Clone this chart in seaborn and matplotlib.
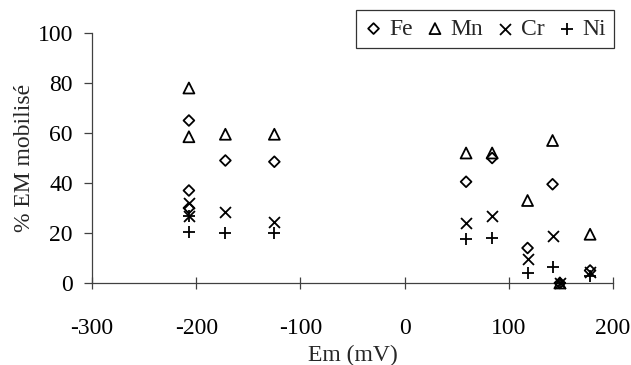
import matplotlib
matplotlib.use("Agg")
import matplotlib.pyplot as plt
import seaborn as sns

# ---- data ----
fe_x = [-207, -207, -207, -172, -125, 59, 84, 118, 142, 149, 178]
fe_y = [65, 37, 30, 49, 48.5, 40.5, 50, 14, 39.5, 0, 5]
mn_x = [-207, -207, -172, -125, 59, 84, 118, 142, 149, 178]
mn_y = [78, 58.5, 59.5, 59.5, 52, 52, 33, 57, 0, 19.5]
cr_x = [-207, -207, -172, -125, 59, 84, 118, 142, 149, 178]
cr_y = [32, 27, 28.5, 24.5, 24, 27, 9.5, 19, 0, 4.5]
ni_x = [-207, -207, -172, -125, 59, 84, 118, 142, 149, 178]
ni_y = [27, 20.5, 20, 20, 17.5, 18, 4, 6.5, 0, 3]

x_ticks = [-300, -200, -100, 0, 100, 200]
y_ticks = [0, 20, 40, 60, 80, 100]

sns.set_theme(style="white")
plt.rcParams['font.family'] = ['Liberation Serif', 'DejaVu Serif']

fig = plt.figure(figsize=(6.31, 3.65), dpi=100)
ax = fig.add_axes([92/631, 1-283/365, (613-92)/631, 250/365])

lw = 1.3
sns.scatterplot(x=fe_x, y=fe_y, marker='D', s=30, facecolor='none', edgecolor='black',
                linewidth=lw, ax=ax, label='Fe', clip_on=False, zorder=3)
sns.scatterplot(x=mn_x, y=mn_y, marker='^', s=62, facecolor='none', edgecolor='black',
                linewidth=lw, ax=ax, label='Mn', clip_on=False, zorder=3)
sns.scatterplot(x=cr_x, y=cr_y, marker='x', s=62, color='black',
                linewidth=lw, ax=ax, label='Cr', clip_on=False, zorder=3)
sns.scatterplot(x=ni_x, y=ni_y, marker='+', s=70, color='black',
                linewidth=lw, ax=ax, label='Ni', clip_on=False, zorder=3)

ax.set_xlim(-300, 200)
ax.set_ylim(0, 100)
ax.set_xticks(x_ticks)
ax.set_yticks(y_ticks)
ax.set_xticklabels([str(v) for v in x_ticks])
ax.set_yticklabels([str(v) for v in y_ticks])

for side in ['top', 'right']:
    ax.spines[side].set_visible(False)
for side in ['left', 'bottom']:
    ax.spines[side].set_color('#404040')
    ax.spines[side].set_linewidth(0.9)

fs = 17
ax.tick_params(axis='x', direction='inout', length=8.5, width=0.9, color='#404040',
               pad=21, labelsize=fs, labelcolor='black', bottom=True)
ax.tick_params(axis='y', direction='out', length=5.8, width=0.9, color='#404040',
               pad=8, labelsize=fs, labelcolor='black', left=True)

ax.set_xlabel('Em (mV)', fontsize=fs, labelpad=4)
ax.set_ylabel('% EM mobilisé', fontsize=fs, labelpad=2)

leg = ax.legend(loc='upper right', bbox_to_anchor=(614/631, 1-10/365),
                bbox_transform=fig.transFigure, borderaxespad=0, ncol=4,
                fontsize=fs, frameon=True, fancybox=False, handlelength=0.8,
                handletextpad=0.25, columnspacing=0.55, borderpad=0.35)
leg.get_frame().set_edgecolor('black')
leg.get_frame().set_linewidth(0.9)

fig.savefig('out.png', dpi=100)
